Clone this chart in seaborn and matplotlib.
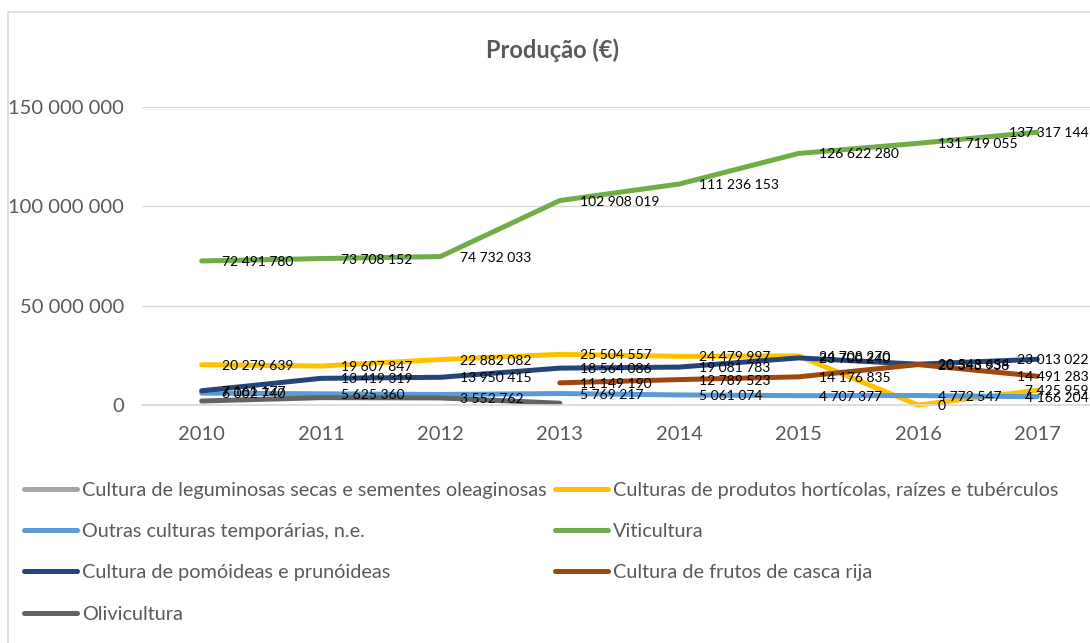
import numpy as np
import pandas as pd
import seaborn as sns
import matplotlib.pyplot as plt
from matplotlib.lines import Line2D
from matplotlib.patches import Rectangle

# dados
anos = [2010, 2011, 2012, 2013, 2014, 2015, 2016, 2017]
leguminosas = [np.nan] * 8
horticolas = [20279639, 19607847, 22882082, 25504557, 24479997, 24708270, 0, 7425959]
outras = [6002740, 5625360, 5300000, 5769217, 5061074, 4707377, 4772547, 4166204]
viticultura = [72491780, 73708152, 74732033, 102908019, 111236153, 126622280, 131719055, 137317144]
pomoideas = [7161177, 13419319, 13950415, 18564086, 19081783, 23700240, 20548654, 23013022]
frutos = [np.nan, np.nan, np.nan, 11149190, 12789523, 14176835, 20343938, 14491283]
olivicultura = [2000000, 3700000, 3552762, 900000, np.nan, np.nan, np.nan, np.nan]

series = ["Cultura de leguminosas secas e sementes oleaginosas",
          "Culturas de produtos hortícolas, raízes e tubérculos",
          "Outras culturas temporárias, n.e.",
          "Viticultura",
          "Cultura de pomóideas e prunóideas",
          "Cultura de frutos de casca rija",
          "Olivicultura"]
valores = [leguminosas, horticolas, outras, viticultura, pomoideas, frutos, olivicultura]
cores = ["#A5A5A5", "#FFC000", "#5B9BD5", "#70AD47", "#264478", "#9E480E", "#636363"]
yticks = [0, 50000000, 100000000, 150000000]

# pontos sem rótulo visível no original
sem_rotulo = {("Outras culturas temporárias, n.e.", 2012),
              ("Olivicultura", 2010), ("Olivicultura", 2011), ("Olivicultura", 2013)}

df = pd.DataFrame({"Ano": anos * len(series),
                   "Série": [s for s in series for _ in anos],
                   "Valor": [v for vals in valores for v in vals]})

sns.set_theme(style="white")
plt.rcParams["font.family"] = ["Lato", "DejaVu Sans"]

W, H = 1090, 643
fig = plt.figure(figsize=(W / 100, H / 100), dpi=100)
ax = fig.add_axes([142 / W, 1 - 405 / H, 955 / W, 298 / H])

sns.lineplot(data=df.dropna(), x="Ano", y="Valor", hue="Série", hue_order=series,
             palette=dict(zip(series, cores)), linewidth=3.6, legend=False,
             solid_capstyle="round", clip_on=False, ax=ax)

ax.set_xlim(2009.5, 2017.5)
ax.set_ylim(0, 150000000)
ax.set_xticks(anos)
ax.set_xticklabels([str(a) for a in anos])
ax.set_yticks(yticks)
ax.set_yticklabels([f"{v:,.0f}".replace(",", " ") for v in yticks])
ax.set_xlabel("")
ax.set_ylabel("")
ax.tick_params(length=0, labelsize=14.5, labelcolor="#595959")
ax.tick_params(axis="y", pad=13)
ax.tick_params(axis="x", pad=15)
ax.yaxis.grid(True, color="#D9D9D9", linewidth=1)
ax.set_axisbelow(True)
for s in ["top", "right", "left"]:
    ax.spines[s].set_visible(False)
ax.spines["bottom"].set_color("#D9D9D9")

# rótulos de dados
for nome, vals in zip(series, valores):
    for a, v in zip(anos, vals):
        if np.isnan(v) or (nome, a) in sem_rotulo:
            continue
        txt = f"{v:,.0f}".replace(",", " ")
        if a == anos[-1]:
            ax.annotate(txt, (a, v), xytext=(51, -1), textcoords="offset pixels",
                        ha="right", va="center", fontsize=10, color="black")
        else:
            ax.annotate(txt, (a, v), xytext=(20, -1), textcoords="offset pixels",
                        ha="left", va="center", fontsize=10, color="black")

fig.text(553 / W, 1 - 50 / H, "Produção (€)", ha="center", va="center",
         fontsize=17, fontweight="bold", color="#595959")

# legenda (coluna 1: 4 itens, coluna 2: 3 itens)
ordem = [0, 2, 4, 6, 1, 3, 5]
handles = [Line2D([], [], color=cores[i], linewidth=3.6, solid_capstyle="round") for i in ordem]
labels = [series[i] for i in ordem]
fig.legend(handles, labels, ncol=2, loc="upper left", bbox_to_anchor=(16 / W, 1 - 474 / H),
           frameon=False, fontsize=14.3, labelcolor="#595959", handlelength=2.66,
           handletextpad=0.25, labelspacing=1.22, columnspacing=0.45, borderaxespad=0)

fig.patches.append(Rectangle((8 / W, -0.1), 1.2, 1.1 - 12 / H, transform=fig.transFigure,
                             fill=False, edgecolor="#D9D9D9", linewidth=1.2))

fig.savefig("out.png", dpi=100)
